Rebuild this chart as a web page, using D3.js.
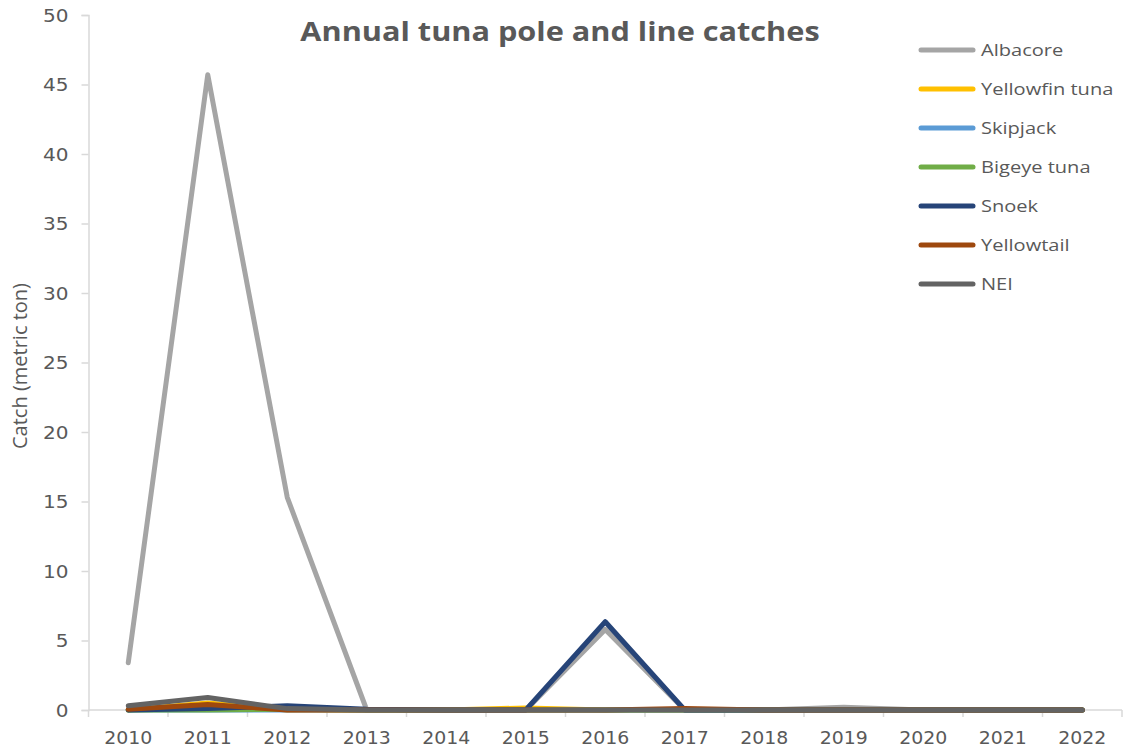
<!DOCTYPE html>
<html>
<head>
<meta charset="utf-8">
<script src="https://cdn.jsdelivr.net/npm/d3@7"></script>
<style>
  html, body { margin: 0; padding: 0; background: #fff; }
  svg { display: block; }
</style>
</head>
<body>
<svg id="chart" width="1125" height="749"></svg>
<script>
// Years on the category axis
const years = ["2010","2011","2012","2013","2014","2015","2016","2017","2018","2019","2020","2021","2022"];

// Catch per species (metric ton)
const albacore     = [3.4, 45.7, 15.3, 0, 0, 0, 5.8, 0, 0, 0.2, 0, 0, 0];
const yellowfin    = [0, 0.5, 0, 0, 0, 0.15, 0, 0, 0, 0, 0, 0, 0];
const skipjack     = [0, 0, 0, 0, 0, 0, 0, 0, 0, 0, 0, 0, 0];
const bigeye       = [0, 0, 0.05, 0, 0, 0, 0, 0, 0, 0, 0, 0, 0];
const snoek        = [0, 0.1, 0.3, 0.05, 0, 0, 6.35, 0, 0, 0, 0, 0, 0];
const yellowtail   = [0.05, 0.4, 0, 0, 0, 0, 0, 0.1, 0, 0, 0, 0, 0];
const nei          = [0.3, 0.9, 0.1, 0, 0, 0, 0, 0, 0, 0, 0, 0, 0];

const seriesNames  = ["Albacore", "Yellowfin tuna", "Skipjack", "Bigeye tuna", "Snoek", "Yellowtail", "NEI"];
const seriesValues = [albacore, yellowfin, skipjack, bigeye, snoek, yellowtail, nei];
const seriesColors = ["#a5a5a5", "#ffc000", "#5b9bd5", "#70ad47", "#264478", "#9e480e", "#636363"];

const yTicks = [0, 5, 10, 15, 20, 25, 30, 35, 40, 45, 50];

const svg = d3.select("#chart");
const textColor = "#595959";
const axisColor = "#d9d9d9";
const stretch = 1.18; // text is drawn slightly widened

const plot = { left: 88.5, right: 1122, top: 15, bottom: 710 };

const x = d3.scaleBand().domain(years).range([plot.left, plot.right]).paddingInner(0).paddingOuter(0);
const y = d3.scaleLinear().domain([0, 50]).range([plot.bottom, plot.top]);

// Title
svg.append("text")
  .attr("transform", `translate(560,41) scale(${stretch},1)`)
  .attr("text-anchor", "middle")
  .attr("font-family", "'Open Sans', sans-serif")
  .attr("font-weight", "bold")
  .attr("font-size", 26)
  .attr("fill", textColor)
  .text("Annual tuna pole and line catches");

// Y axis
const yAxis = svg.append("g")
  .attr("transform", `translate(${plot.left},0)`)
  .call(d3.axisLeft(y).tickValues(yTicks).tickSize(7).tickFormat(d3.format("d")));
yAxis.select(".domain").attr("stroke", axisColor).attr("stroke-width", 1.5);
yAxis.selectAll(".tick line").attr("stroke", axisColor).attr("stroke-width", 1.5);
yAxis.selectAll(".tick text")
  .attr("x", null).attr("dy", null)
  .attr("transform", `translate(-20,6) scale(${stretch},1)`)
  .attr("fill", textColor)
  .attr("font-family", "'DejaVu Sans', sans-serif")
  .attr("font-size", 17);

// X axis: ticks sit on category boundaries
const xAxisG = svg.append("g").attr("transform", `translate(0,${plot.bottom})`);
xAxisG.append("line")
  .attr("x1", plot.left).attr("x2", plot.right)
  .attr("stroke", axisColor).attr("stroke-width", 1.5);
const boundaries = years.map(d => x(d) + x.bandwidth()).concat([x(years[0])]);
xAxisG.selectAll("line.tk").data(boundaries).join("line")
  .attr("class", "tk")
  .attr("x1", d => d).attr("x2", d => d)
  .attr("y1", 0).attr("y2", 7)
  .attr("stroke", axisColor).attr("stroke-width", 1.5);
xAxisG.selectAll("text").data(years).join("text")
  .attr("transform", d => `translate(${x(d) + x.bandwidth() / 2},34) scale(1.08,1)`)
  .attr("text-anchor", "middle")
  .attr("fill", textColor)
  .attr("font-family", "'DejaVu Sans', sans-serif")
  .attr("font-size", 17.5)
  .text(d => d);

// Y axis title
svg.append("text")
  .attr("transform", "translate(27,366) rotate(-90)")
  .attr("text-anchor", "middle")
  .attr("fill", textColor)
  .attr("font-family", "'Open Sans', sans-serif")
  .attr("font-size", 20)
  .text("Catch (metric ton)");

// Lines
const line = d3.line()
  .x((d, i) => x(years[i]) + x.bandwidth() / 2)
  .y(d => y(d))
  .curve(d3.curveLinear);

svg.append("g").selectAll("path")
  .data(seriesValues)
  .join("path")
  .attr("d", d => line(d))
  .attr("fill", "none")
  .attr("stroke", (d, i) => seriesColors[i])
  .attr("stroke-width", 5)
  .attr("stroke-linejoin", "round")
  .attr("stroke-linecap", "round");

// Legend
const legend = svg.append("g").attr("transform", "translate(921,50)");
const rows = legend.selectAll("g").data(seriesNames).join("g")
  .attr("transform", (d, i) => `translate(0,${i * 39})`);
rows.append("line")
  .attr("x1", 0).attr("x2", 52).attr("y1", 0).attr("y2", 0)
  .attr("stroke", (d, i) => seriesColors[i])
  .attr("stroke-width", 5)
  .attr("stroke-linecap", "round");
rows.append("text")
  .attr("transform", `translate(60,6) scale(${stretch},1)`)
  .attr("fill", textColor)
  .attr("font-family", "'Open Sans', sans-serif")
  .attr("font-size", 17)
  .text(d => d);
</script>
</body>
</html>
